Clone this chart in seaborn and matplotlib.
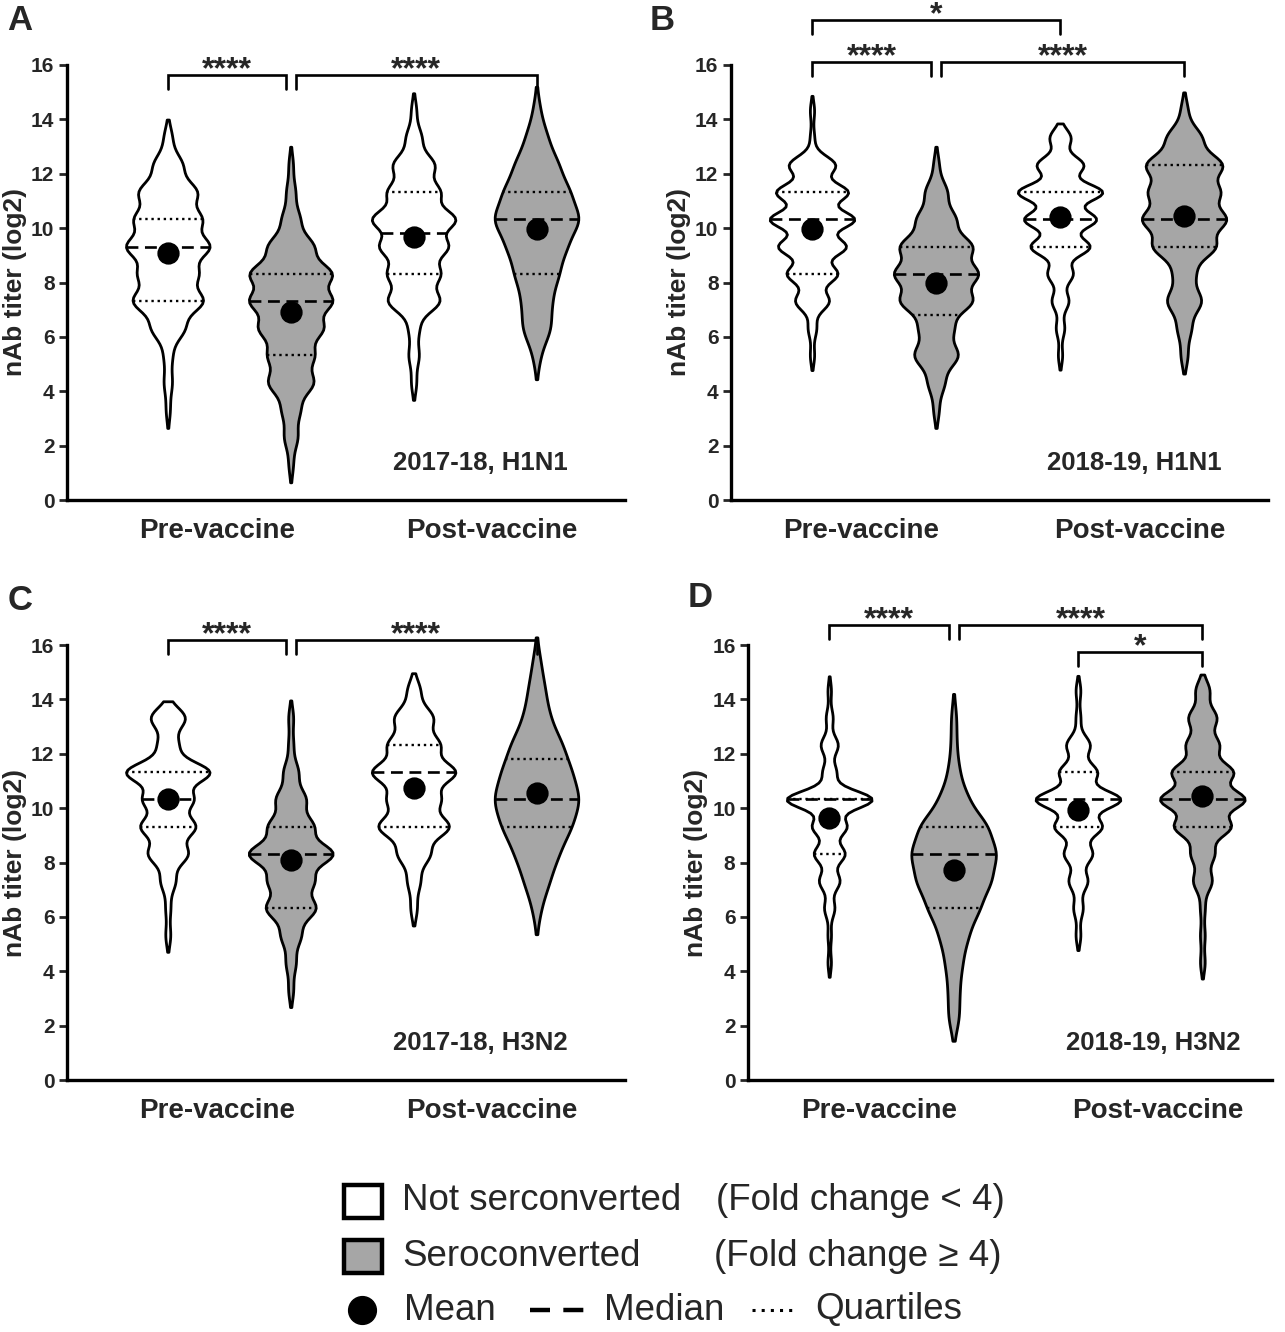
import numpy as np
import pandas as pd
import matplotlib
matplotlib.use("Agg")
import matplotlib.pyplot as plt
import seaborn as sns
from matplotlib.patches import Rectangle
from matplotlib.lines import Line2D

sns.set_theme(style="ticks")
plt.rcParams['font.family'] = ['Liberation Sans', 'DejaVu Sans']

# ---------------- data ----------------
# titer levels (log2 of the neutralising titer)
TITERS = [2.5, 5, 10, 20, 40, 80, 160, 320, 640, 1280, 2560, 5120, 10240, 20480, 40960]
LOG2_LEVELS = np.log2(TITERS)

# number of subjects at each titer level (same order as TITERS)
A_PRE_NOT   = [0, 0, 1, 2, 2, 8, 17, 14, 20, 16, 14, 7, 2, 0, 0]
A_PRE_SERO  = [1, 3, 4, 10, 10, 14, 18, 18, 10, 4, 2, 1, 0, 0, 0]
A_POST_NOT  = [0, 0, 0, 1, 2, 2, 10, 10, 13, 16, 10, 8, 3, 1, 0]
A_POST_SERO = [0, 0, 0, 0, 1, 4, 4, 6, 8, 12, 9, 6, 3, 1, 0]

B_PRE_NOT   = [0, 0, 0, 0, 1, 2, 8, 12, 16, 20, 17, 11, 1, 1, 0]
B_PRE_SERO  = [0, 0, 1, 3, 8, 6, 13, 15, 13, 7, 4, 1, 0, 0, 0]
B_POST_NOT  = [0, 0, 0, 0, 1, 2, 4, 6, 14, 17, 20, 11, 5, 0, 0]
B_POST_SERO = [0, 0, 0, 0, 1, 2, 5, 3, 9, 12, 10, 11, 5, 1, 0]

C_PRE_NOT   = [0, 0, 0, 0, 1, 1, 3, 8, 11, 10, 17, 4, 7, 0, 0]
C_PRE_SERO  = [0, 0, 1, 2, 4, 10, 9, 17, 9, 6, 3, 1, 1, 0, 0]
C_POST_NOT  = [0, 0, 0, 0, 0, 1, 2, 5, 11, 8, 13, 8, 6, 2, 0]
C_POST_SERO = [0, 0, 0, 0, 0, 1, 3, 5, 8, 10, 8, 6, 3, 2, 1]

D_PRE_NOT   = [0, 0, 0, 1, 1, 3, 6, 9, 10, 25, 4, 5, 2, 1, 0]
D_PRE_SERO  = [0, 2, 2, 3, 5, 9, 13, 15, 12, 5, 2, 1, 1, 0, 0]
D_POST_NOT  = [0, 0, 0, 0, 1, 2, 4, 6, 10, 18, 8, 5, 1, 1, 0]
D_POST_SERO = [0, 0, 0, 1, 1, 1, 4, 5, 12, 18, 13, 7, 6, 3, 0]

# KDE bandwidth (log2 units) used for each violin
A_BW = [0.42, 0.42, 0.40, 0.55]
B_BW = [0.34, 0.42, 0.33, 0.42]
C_BW = [0.38, 0.40, 0.40, 0.60]
D_BW = [0.33, 0.55, 0.34, 0.37]

PANEL_TITLES = ["2017-18, H1N1", "2018-19, H1N1", "2017-18, H3N2", "2018-19, H3N2"]
PANEL_LETTERS = ["A", "B", "C", "D"]
XTICK_LABELS = ["Pre-vaccine", "Post-vaccine"]
YLABEL = "nAb titer (log2)"
YTICKS = [0, 2, 4, 6, 8, 10, 12, 14, 16]

# significance brackets: (x1, x2, label)
A_SIG = [(0, 0.96, "****"), (1.04, 3, "****")]
B_SIG = [(0, 0.96, "****"), (1.04, 3, "****"), (0, 2, "*")]
C_SIG = [(0, 0.96, "****"), (1.04, 3, "****")]
D_SIG = [(0, 0.96, "****"), (1.04, 3, "****"), (2, 3, "*")]

WHITE = "#ffffff"
GRAY = "#a6a6a6"
COLORS = [WHITE, GRAY, WHITE, GRAY]
POSITIONS = [0, 1, 2, 3]

# ---------------- layout ----------------
W, H = 1285, 1332
fig = plt.figure(figsize=(W / 100, H / 100), dpi=100)


def fx(x):
    return x / W


def fy(y):
    return 1 - y / H


panels = [
    dict(rect=(67, 65, 625, 500), xlim=(-0.82, 3.72), counts=[A_PRE_NOT, A_PRE_SERO, A_POST_NOT, A_POST_SERO],
         bw=A_BW, sig=A_SIG, sig_y=[15.63, 15.63], letter_xy=(20, 20), title_xy=(568, 463)),
    dict(rect=(731, 65, 1268, 500), xlim=(-0.653, 3.677), counts=[B_PRE_NOT, B_PRE_SERO, B_POST_NOT, B_POST_SERO],
         bw=B_BW, sig=B_SIG, sig_y=[16.1, 16.1, 17.65], letter_xy=(662, 20), title_xy=(1222, 463)),
    dict(rect=(67, 645, 625, 1080), xlim=(-0.82, 3.72), counts=[C_PRE_NOT, C_PRE_SERO, C_POST_NOT, C_POST_SERO],
         bw=C_BW, sig=C_SIG, sig_y=[16.18, 16.18], letter_xy=(20, 600), title_xy=(568, 1043)),
    dict(rect=(748, 645, 1272, 1080), xlim=(-0.653, 3.56), counts=[D_PRE_NOT, D_PRE_SERO, D_POST_NOT, D_POST_SERO],
         bw=D_BW, sig=D_SIG, sig_y=[16.73, 16.73, 15.74], letter_xy=(700, 598), title_xy=(1240, 1043)),
]

LW = 2.0
for i, p in enumerate(panels):
    l, t, r, b = p["rect"]
    ax = fig.add_axes([fx(l), fy(b), fx(r - l), (b - t) / H])
    for pos, cnt, col, bw in zip(POSITIONS, p["counts"], COLORS, p["bw"]):
        vals = np.repeat(LOG2_LEVELS, cnt)
        df = pd.DataFrame({"x": np.full(len(vals), float(pos)), "y": vals})
        sd = np.std(vals, ddof=1)
        n_before = len(ax.lines)
        sns.violinplot(data=df, x="x", y="y", native_scale=True, orient="x", width=0.68,
                       density_norm="width", bw_method=bw / sd, cut=1.6, inner="quart",
                       color=col, linecolor="black", linewidth=LW, saturation=1, ax=ax,
                       inner_kws=dict(linewidth=1.6, color="black"))
        new_lines = ax.lines[n_before:]
        if len(new_lines) == 3:
            ys = [ln.get_ydata()[0] for ln in new_lines]
            order = np.argsort(ys, kind="stable")
            for k, idx in enumerate(order):
                ln = new_lines[idx]
                if k == 1:
                    ln.set_dashes((4.5, 2.5))
                    ln.set_linewidth(1.9)
                else:
                    ln.set_dashes((1.0, 1.6))
                    ln.set_linewidth(1.7)
        for coll in ax.collections:
            coll.set_clip_on(False)
        sns.pointplot(data=df, x="x", y="y", native_scale=True, orient="x", estimator="mean",
                      errorbar=None, color="black", markers="o", markersize=14, linestyle="none", ax=ax)
    for ln in ax.lines:
        ln.set_clip_on(False)

    ax.set_xlim(*p["xlim"])
    ax.set_ylim(0, 16)
    ax.set_yticks(YTICKS)
    ax.set_yticklabels([str(v) for v in YTICKS], fontsize=15, fontweight="bold")
    ax.set_xticks([0.4, 2.64])
    ax.set_xticklabels(XTICK_LABELS, fontsize=20, fontweight="bold")
    ax.tick_params(axis="x", length=0, pad=13)
    ax.tick_params(axis="y", length=6, width=2.0, pad=3, direction="out")
    ax.set_xlabel("")
    ax.set_ylabel(YLABEL, fontsize=19, fontweight="bold")
    ax.yaxis.set_label_coords(-40 / (r - l), 0.5)
    for s in ["top", "right"]:
        ax.spines[s].set_visible(False)
    for s in ["left", "bottom"]:
        ax.spines[s].set_linewidth(2.4)
        ax.spines[s].set_color("black")
    ax.set_facecolor("none")

    # significance brackets
    for (x1, x2, lab), yb in zip(p["sig"], p["sig_y"]):
        ax.plot([x1, x1, x2, x2], [yb - 0.5, yb, yb, yb - 0.5], color="black", lw=1.9,
                clip_on=False, solid_joinstyle="miter")
        ax.text((x1 + x2) / 2, yb - 0.12, lab, ha="center", va="baseline", fontsize=23,
                fontweight="bold", clip_on=False)

    fig.text(fx(p["letter_xy"][0]), fy(p["letter_xy"][1]), PANEL_LETTERS[i], fontsize=25,
             fontweight="bold", ha="center", va="center")
    fig.text(fx(p["title_xy"][0]), fy(p["title_xy"][1]), PANEL_TITLES[i], fontsize=18.5,
             fontweight="bold", ha="right", va="center")

# ---------------- legend ----------------
LEG_FS = 26.5
fig.add_artist(Rectangle((fx(344), fy(1218)), fx(38), 33 / H, facecolor=WHITE,
                         edgecolor="black", lw=3.2, transform=fig.transFigure))
fig.add_artist(Rectangle((fx(344), fy(1273)), fx(38), 33 / H, facecolor=GRAY,
                         edgecolor="black", lw=3.2, transform=fig.transFigure))
fig.text(fx(402), fy(1201), "Not serconverted", fontsize=LEG_FS, va="center", ha="left")
fig.text(fx(716), fy(1201), "(Fold change < 4)", fontsize=LEG_FS, va="center", ha="left")
fig.text(fx(402), fy(1256), "Seroconverted", fontsize=LEG_FS, va="center", ha="left")
fig.text(fx(714), fy(1256), "(Fold change \u2265 4)", fontsize=LEG_FS, va="center", ha="left")
fig.add_artist(Line2D([fx(362)], [fy(1310)], marker="o", markersize=20, color="black",
                      transform=fig.transFigure))
fig.text(fx(404), fy(1310), "Mean", fontsize=LEG_FS, va="center", ha="left")
fig.add_artist(Line2D([fx(530), fx(585)], [fy(1310), fy(1310)], color="black", lw=3.2,
                      dashes=(4.5, 3.0), transform=fig.transFigure))
fig.text(fx(604), fy(1310), "Median", fontsize=LEG_FS, va="center", ha="left")
fig.add_artist(Line2D([fx(752), fx(796)], [fy(1310), fy(1310)], color="black", lw=2.2,
                      dashes=(1.0, 2.0), transform=fig.transFigure))
fig.text(fx(815), fy(1310), "Quartiles", fontsize=LEG_FS, va="center", ha="left")

fig.savefig("out.png", dpi=100, facecolor="white")
